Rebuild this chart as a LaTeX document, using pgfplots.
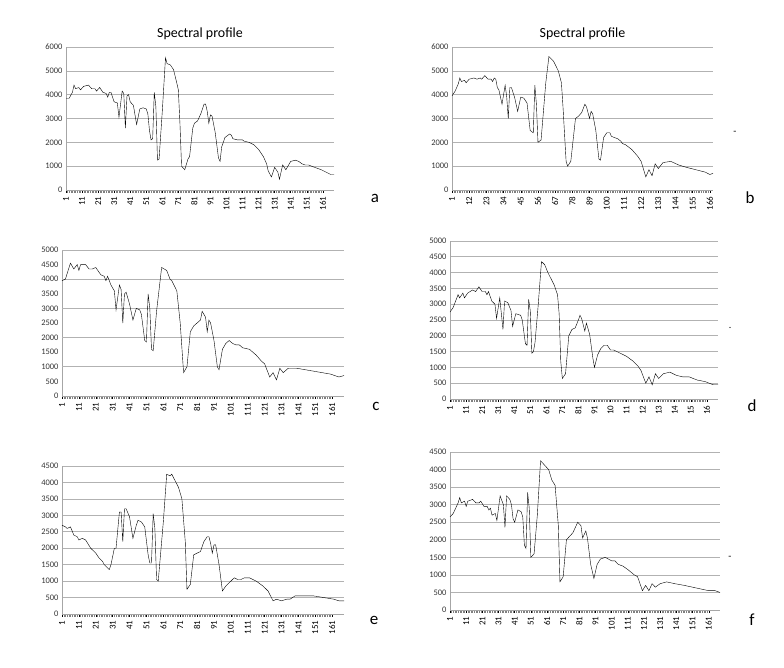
\documentclass[border=0pt]{standalone}
\usepackage{pgfplots}
\pgfplotsset{compat=1.18}
\usepackage{fontspec}
\setmainfont{Carlito}
\setsansfont{Carlito}
\pgfplotsset{panel/.style={
  scale only axis, width=268bp, height=143bp, anchor=south west,
  xmin=1, xmax=168, axis x line*=bottom, axis y line*=left,
  axis line style={gray!70}, ymajorgrids, grid style={gray!60, line width=0.6pt},
  xtick={1,11,...,161}, minor x tick num=9,
  x tick label style={rotate=90, anchor=east, font=\fontsize{9}{9}\selectfont},
  y tick label style={font=\fontsize{8.5}{9}\selectfont, text=black!80},
  xtick align=outside, major x tick style={black, line width=0.4pt},
  minor x tick style={gray, line width=0.3pt},
  major tick length=3bp, minor tick length=3bp,
  ytick style={draw=none},
  /pgf/number format/assume math mode=true,
  yticklabel style={/pgf/number format/1000 sep={}},
  cycle list={{black, line width=1pt, no marks, line join=round}},
  clip=false}}
\begin{document}
\begin{tikzpicture}[x=1bp,y=1bp]
\useasboundingbox (0,0) rectangle (784,668);
% a
\begin{axis}[panel, at={(66bp,478bp)}, ymin=0, ymax=6000, ytick={0,1000,...,6000},
  title={Spectral profile}, title style={font=\fontsize{14}{14}\selectfont, yshift=-2bp}]
\addplot coordinates {(1,3850)(3,3850)(5,4100)(6,4400)(7,4250)(9,4300)(10,4200)(12,4350)(15,4400)(17,4250)(19,4250)(20,4150)(22,4300)(24,4100)(26,4050)(27,3900)(28,4100)(29,4100)(31,3700)(33,3650)(34,3050)(36,4150)(37,4050)(38,2600)(39,3950)(40,4000)(41,3700)(43,3550)(45,2750)(47,3400)(49,3450)(51,3400)(52,3200)(53,2500)(54,2100)(55,2150)(56,4100)(57,3500)(58,1250)(59,1300)(61,3300)(63,5550)(64,5300)(66,5250)(68,5050)(70,4500)(71,4200)(72,2800)(73,1000)(75,850)(77,1300)(78,1400)(80,2600)(81,2800)(83,2900)(85,3200)(87,3600)(88,3600)(89,3300)(90,2800)(91,3150)(92,3100)(94,2400)(96,1350)(97,1200)(98,1800)(100,2200)(102,2300)(103,2350)(104,2300)(105,2150)(108,2100)(111,2100)(112,2050)(115,2000)(118,1900)(121,1700)(124,1400)(126,1100)(127,800)(129,550)(131,950)(133,750)(134,450)(136,1050)(138,850)(141,1200)(144,1250)(146,1200)(148,1100)(150,1050)(152,1050)(156,950)(160,850)(163,750)(166,650)(168,650)};
\end{axis}
\node[font=\fontsize{17}{17}\selectfont] at (375,470) {a};
% b
\begin{axis}[panel, at={(452bp,478bp)}, width=261bp, ymin=0, ymax=6000, ytick={0,1000,...,6000}, xtick={1,12,...,166},
  title={Spectral profile}, title style={font=\fontsize{14}{14}\selectfont, yshift=-2bp}]
\addplot coordinates {(1,3950)(3,4150)(5,4450)(6,4700)(7,4550)(9,4600)(10,4500)(12,4650)(15,4700)(17,4650)(19,4700)(20,4650)(22,4800)(24,4650)(26,4650)(27,4550)(28,4700)(29,4650)(30,4300)(31,4200)(33,3600)(35,4400)(36,3900)(37,3000)(38,4300)(39,4300)(41,3900)(43,3300)(45,3900)(47,3850)(49,3650)(51,2500)(53,2400)(54,4400)(55,3600)(56,2000)(58,2100)(61,4500)(63,5600)(66,5400)(69,5000)(71,4500)(72,3500)(74,1200)(75,1000)(77,1200)(80,3000)(82,3100)(84,3250)(86,3600)(87,3500)(89,3000)(90,3300)(91,3200)(93,2500)(95,1300)(96,1250)(98,2200)(100,2400)(102,2400)(103,2250)(105,2200)(107,2150)(109,2050)(110,1950)(112,1900)(116,1700)(120,1400)(122,1200)(125,550)(127,850)(129,600)(131,1100)(133,900)(136,1150)(141,1200)(146,1050)(151,950)(157,850)(163,750)(166,650)(168,700)};
\end{axis}
\node[font=\fontsize{17}{17}\selectfont] at (750,470) {b};
\node at (735,535) {-};
% c
\begin{axis}[panel, at={(62bp,272bp)}, width=282bp, height=146bp, ymin=0, ymax=5000, ytick={0,500,...,5000},
  ymajorgrids=false, extra y ticks={1000,2000,3000,4000,5000}, extra y tick labels={},
  extra y tick style={grid=major}]
\addplot coordinates {(1,3950)(3,4000)(6,4550)(8,4350)(10,4500)(11,4300)(12,4500)(15,4500)(17,4350)(19,4350)(21,4400)(24,4150)(26,4100)(27,3950)(28,4100)(30,3800)(32,3600)(33,2950)(35,3800)(36,3650)(37,2500)(38,3500)(39,3550)(41,3150)(43,2600)(45,3000)(47,2950)(48,2800)(50,1900)(51,1850)(52,3500)(53,3000)(54,1600)(55,1550)(57,2900)(60,4400)(63,4300)(65,4000)(66,3950)(69,3600)(71,2500)(73,800)(75,1000)(77,2200)(79,2400)(81,2500)(83,2600)(84,2900)(86,2700)(87,2200)(88,2600)(89,2500)(91,1900)(93,1000)(94,900)(96,1600)(98,1800)(100,1900)(102,1800)(104,1750)(106,1750)(108,1650)(112,1600)(116,1400)(119,1200)(121,1100)(124,650)(126,800)(128,550)(130,950)(132,800)(135,950)(140,950)(145,900)(150,850)(155,800)(160,750)(165,650)(168,700)};
\end{axis}
\node[font=\fontsize{17}{17}\selectfont] at (376,262) {c};
% d
\begin{axis}[panel, at={(450bp,269bp)}, width=268bp, height=158bp, ymin=0, ymax=5000, ytick={0,500,...,5000},
  xticklabels={1,11,21,31,41,51,61,71,81,91,10,11,12,13,14,15,16}]
\addplot coordinates {(1,2750)(3,2900)(6,3300)(7,3200)(9,3350)(10,3200)(12,3350)(15,3450)(17,3400)(19,3550)(21,3400)(23,3400)(24,3300)(25,3400)(27,3100)(29,3000)(30,2550)(32,3200)(34,2200)(35,3100)(37,3050)(39,2800)(40,2300)(42,2700)(45,2650)(46,2500)(48,1750)(49,1700)(50,3150)(51,2800)(52,1450)(53,1500)(54,1800)(56,3000)(58,4350)(60,4250)(62,4000)(63,3900)(66,3600)(68,3300)(69,2700)(70,1200)(71,650)(73,800)(75,2000)(77,2200)(79,2250)(81,2500)(82,2650)(83,2550)(85,2150)(86,2400)(88,2050)(90,1300)(91,1000)(93,1400)(95,1600)(97,1700)(99,1700)(101,1550)(103,1550)(105,1500)(107,1450)(111,1350)(115,1200)(118,1050)(120,900)(123,500)(125,700)(127,450)(129,800)(131,650)(134,800)(138,850)(142,750)(146,700)(150,700)(155,600)(160,550)(165,450)(168,450)};
\end{axis}
\node[font=\fontsize{17}{17}\selectfont] at (752,262) {d};
\node at (730,340) {.};
% e
\begin{axis}[panel, at={(62bp,54bp)}, width=282bp, height=148bp, ymin=0, ymax=4500, ytick={0,500,...,4500}]
\addplot coordinates {(1,2700)(3,2650)(4,2600)(6,2650)(8,2400)(10,2350)(11,2250)(13,2300)(15,2250)(18,2000)(21,1850)(23,1700)(25,1600)(26,1500)(29,1350)(30,1500)(32,2000)(33,2000)(35,3100)(36,3100)(37,2200)(38,3200)(39,3200)(41,2950)(43,2300)(45,2700)(46,2850)(48,2800)(50,2650)(52,1800)(53,1550)(54,1550)(55,3050)(56,2600)(57,1050)(58,1000)(61,2800)(63,4250)(65,4200)(66,4250)(68,4050)(70,3850)(72,3500)(74,2200)(75,750)(77,900)(79,1800)(81,1850)(83,1900)(85,2200)(87,2350)(88,2350)(89,2150)(90,1850)(91,2100)(92,2100)(94,1500)(96,700)(98,850)(101,1000)(103,1100)(105,1050)(107,1050)(109,1100)(112,1100)(116,1000)(120,850)(123,700)(126,400)(128,450)(131,400)(134,450)(136,450)(139,550)(145,550)(150,550)(156,500)(162,450)(165,400)(168,400)};
\end{axis}
\node[font=\fontsize{17}{17}\selectfont] at (374,48) {e};
% f
\begin{axis}[panel, at={(450bp,58bp)}, width=270bp, height=158bp, ymin=0, ymax=4500, ytick={0,500,...,4500}]
\addplot coordinates {(1,2650)(3,2750)(6,3050)(7,3200)(8,3050)(10,3100)(11,2950)(12,3100)(15,3150)(17,3050)(19,3050)(20,3100)(22,2950)(24,2950)(25,2850)(26,2900)(27,2700)(29,2750)(30,2550)(32,3250)(34,3000)(35,2350)(36,3250)(38,3150)(39,3000)(40,2600)(41,2500)(43,2850)(45,2800)(46,2650)(47,1850)(48,1750)(49,3350)(50,2900)(51,1500)(53,1600)(55,2700)(57,4250)(59,4150)(62,4000)(64,3700)(66,3550)(68,2400)(69,800)(71,950)(73,2000)(75,2100)(77,2200)(80,2500)(82,2400)(83,2050)(85,2250)(86,2050)(88,1300)(90,900)(92,1300)(94,1450)(97,1500)(99,1450)(101,1400)(103,1400)(105,1300)(108,1250)(111,1150)(115,1000)(117,950)(120,550)(122,700)(124,550)(126,750)(128,650)(131,750)(135,800)(140,750)(146,700)(151,650)(156,600)(161,550)(165,550)(168,500)};
\end{axis}
\node[font=\fontsize{17}{17}\selectfont] at (752,48) {f};
\node at (730,110) {-};
\end{tikzpicture}
\end{document}
